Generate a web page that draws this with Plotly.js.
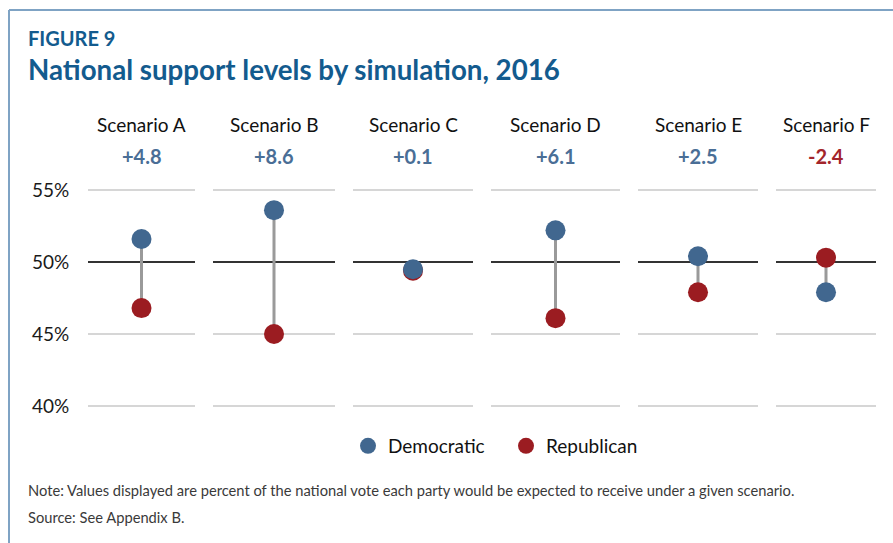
<!DOCTYPE html>
<html><head><meta charset="utf-8">
<script src="https://cdn.plot.ly/plotly-3.0.1.min.js"></script>
<style>html,body{margin:0;padding:0;background:#fff;}#chart{width:893px;height:543px;}</style>
</head><body><div id="chart"></div>
<script>
// ---- data ----
const scenarios = ['Scenario A','Scenario B','Scenario C','Scenario D','Scenario E','Scenario F'];
const democratic = [51.6, 53.6, 49.5, 52.2, 50.4, 47.9];
const republican = [46.8, 45.0, 49.4, 46.1, 47.9, 50.3];
const seriesNames = ['Democratic','Republican'];
const yTickVals = [40, 45, 50, 55];
const yTickText = ['40%', '45%', '50%', '55%'];
const yGridVals = [40, 45, 55];
const referenceLevel = 50;
const figureLabel = 'FIGURE 9';
const titleText = 'National support levels by simulation, 2016';
const noteText = 'Note: Values displayed are percent of the national vote each party would be expected to receive under a given scenario.';
const sourceText = 'Source: See Appendix B.';

// ---- style / layout ----
const W = 893, H = 543;
const FONT = 'Lato, "Open Sans", sans-serif';
const demColor = '#41678f', repColor = '#9b1c21';
const posColor = '#4a6e96', negColor = '#a3252b';
const panelPx = [[88,195],[213,335],[353,473],[491,620],[638,758],[776,876]];
const yRange = [39, 56];
const yDomPx = [175.6, 420.4];
const px = x => x / W;
const py = y => 1 - y / H;

const traces = [];
const layout = {
  width: W, height: H,
  margin: {l:0, r:0, t:0, b:0},
  paper_bgcolor: '#fff', plot_bgcolor: 'rgba(0,0,0,0)',
  font: {family: FONT, color: '#1a1a1a'},
  showlegend: true,
  legend: {orientation: 'h', x: px(348), xanchor: 'left', y: py(446), yanchor: 'middle',
           font: {family: FONT, size: 19, color: '#111'}, itemsizing: 'trace',
           entrywidth: 113, entrywidthmode: 'pixels', tracegroupgap: 0},
  hovermode: false,
  shapes: [], annotations: []
};

scenarios.forEach((s, i) => {
  const k = i === 0 ? '' : String(i + 1);
  const xa = 'x' + k, ya = 'y' + k;
  layout['xaxis' + k] = {domain: [px(panelPx[i][0]), px(panelPx[i][1])], anchor: ya,
    type: 'category', range: [-0.5, 0.5], showgrid: false, zeroline: false, showline: false,
    showticklabels: false, ticks: '', fixedrange: true};
  layout['yaxis' + k] = {domain: [py(yDomPx[1]), py(yDomPx[0])], anchor: xa,
    range: yRange, tickvals: yTickVals, ticktext: yTickText, showgrid: false,
    minor: {tickvals: yGridVals, showgrid: true, gridcolor: '#d6d6d6', gridwidth: 2, ticks: ''},
    zeroline: false, showline: false,
    showticklabels: i === 0, ticks: i === 0 ? 'outside' : '', ticklen: 14, tickcolor: 'rgba(0,0,0,0)',
    tickfont: {family: FONT, size: 19, color: '#1a1a1a'}, fixedrange: true};
  // 50% reference line
  layout.shapes.push({type: 'line', xref: xa + ' domain', x0: 0, x1: 1, yref: ya,
    y0: referenceLevel, y1: referenceLevel, line: {color: '#333', width: 2}, layer: 'below'});
  // connector
  traces.push({x: [s, s], y: [democratic[i], republican[i]], xaxis: xa, yaxis: ya,
    mode: 'lines', line: {color: '#9a9a9a', width: 3}, showlegend: false, hoverinfo: 'skip'});
  // republican then democratic
  traces.push({x: [s], y: [republican[i]], xaxis: xa, yaxis: ya, name: seriesNames[1],
    mode: 'markers', marker: {color: repColor, size: 20}, legendgroup: 'rep', showlegend: i === 0, legendrank: 2});
  traces.push({x: [s], y: [democratic[i]], xaxis: xa, yaxis: ya, name: seriesNames[0],
    mode: 'markers', marker: {color: demColor, size: 20}, legendgroup: 'dem', showlegend: i === 0, legendrank: 1});
  // labels
  const diff = democratic[i] - republican[i];
  const diffText = (diff >= 0 ? '+' : '') + diff.toFixed(1);
  layout.annotations.push({xref: xa, x: s, yref: 'paper', y: py(125), yanchor: 'middle', showarrow: false,
    text: s, font: {family: FONT, size: 19, color: '#111'}});
  layout.annotations.push({xref: xa, x: s, yref: 'paper', y: py(156), yanchor: 'middle', showarrow: false,
    text: '<b>' + diffText + '</b>', font: {family: FONT, size: 20, color: diff >= 0 ? posColor : negColor}});
});

// header / footer text
layout.annotations.push({xref: 'paper', yref: 'paper', x: px(26), y: py(38), xanchor: 'left', yanchor: 'middle',
  showarrow: false, text: '<b>' + figureLabel + '</b>', font: {family: FONT, size: 20, color: '#135b8e'}});
layout.annotations.push({xref: 'paper', yref: 'paper', x: px(26), y: py(69), xanchor: 'left', yanchor: 'middle',
  showarrow: false, text: '<b>' + titleText + '</b>', font: {family: FONT, size: 27.7, color: '#135b8e'}});
layout.annotations.push({xref: 'paper', yref: 'paper', x: px(26), y: py(490), xanchor: 'left', yanchor: 'middle',
  showarrow: false, text: noteText, font: {family: FONT, size: 14.7, color: '#3a3a3a'}});
layout.annotations.push({xref: 'paper', yref: 'paper', x: px(26), y: py(517), xanchor: 'left', yanchor: 'middle',
  showarrow: false, text: sourceText, font: {family: FONT, size: 14.7, color: '#3a3a3a'}});

// frame
layout.shapes.push({type: 'line', xref: 'paper', yref: 'paper', x0: px(9), x1: 1, y0: py(10), y1: py(10),
  line: {color: '#7fa3c4', width: 2}});
layout.shapes.push({type: 'line', xref: 'paper', yref: 'paper', x0: px(9), x1: px(9), y0: py(10), y1: 0,
  line: {color: '#7fa3c4', width: 2}});

Plotly.newPlot('chart', traces, layout, {displayModeBar: false, staticPlot: true});
</script></body></html>
